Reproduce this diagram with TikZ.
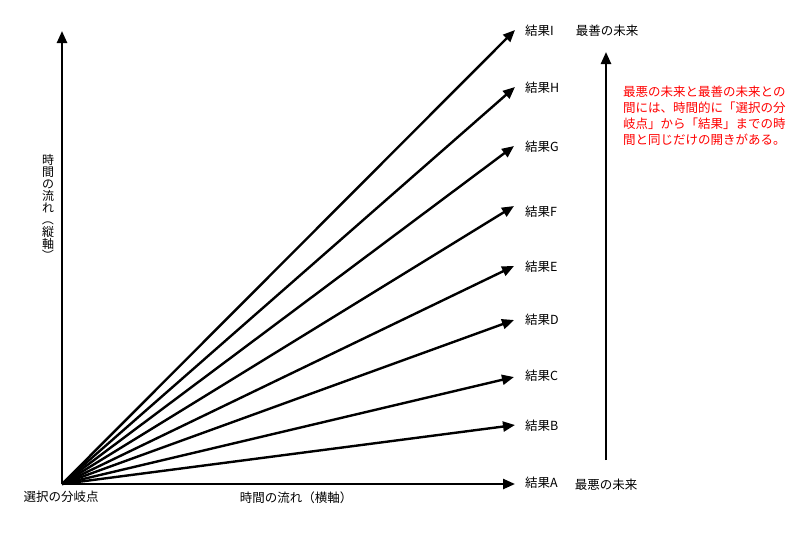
\documentclass[tikz,border=0pt]{standalone}
\usepackage{fontspec}
\setmainfont{Noto Sans CJK JP}
\newfontfamily\cjk{Noto Sans CJK JP}
\usetikzlibrary{arrows.meta}
\tikzset{
  axis/.style={line width=2.4pt, -{Triangle[length=12pt,width=10pt]}},
  ray/.style={line width=2.4pt, -{Triangle[length=12pt,width=10pt]}},
  lbl/.style={font=\cjk\fontsize{12.5}{14}\selectfont, inner sep=0pt, anchor=west},
  txt/.style={font=\cjk\fontsize{12.5}{14}\selectfont, inner sep=0pt},
  note/.style={font=\cjk\fontsize{12.5}{16}\selectfont, inner sep=0pt, text=red, align=left, anchor=north west}
}
\begin{document}
\begin{tikzpicture}[x=1pt,y=-1pt]
\useasboundingbox (0,0) rectangle (800,533);
\coordinate (O) at (62,484);
\coordinate (vtop) at (62,31);
% outcome labels
\node[lbl] (A) at (525,483) {結果A};
\node[lbl] (B) at (525,426) {結果B};
\node[lbl] (C) at (525,376) {結果C};
\node[lbl] (D) at (525,320) {結果D};
\node[lbl] (E) at (525,267) {結果E};
\node[lbl] (F) at (525,212) {結果F};
\node[lbl] (G) at (525,147) {結果G};
\node[lbl] (H) at (525,88) {結果H};
\node[lbl] (I) at (525,31) {結果I};
% tips
\coordinate (tA) at (515,484);
\coordinate (tB) at (515,425);
\coordinate (tC) at (514,377);
\coordinate (tD) at (514,320);
\coordinate (tE) at (514,266);
\coordinate (tF) at (514,206);
\coordinate (tG) at (514,146);
\coordinate (tH) at (515,87);
\coordinate (tI) at (515,30);
% axes
\draw[axis] (O) -- (vtop);
\draw[axis] (O) -- (tA);
\foreach \t in {tB,tC,tD,tE,tF,tG,tH,tI}{
  \draw[ray] (O) -- (\t);
}
% axis labels
\node[txt] (origin) at (61,497) {選択の分岐点};
\node[txt] (hlab) at (296,498) {時間の流れ（横軸）};
\node[txt, align=center, font=\cjk\fontsize{12}{12}\selectfont] (vlab) at (48,208)
  {時\\間\\の\\流\\れ\\\rotatebox[origin=c]{-90}{（}\\縦\\軸\\\rotatebox[origin=c]{-90}{）}};
% right side
\node[txt] (best) at (607,31) {最善の未来};
\node[txt] (worst) at (606,485) {最悪の未来};
\coordinate (rbot) at (606,460);
\coordinate (rtop) at (606,52);
\draw[axis] (rbot) -- (rtop);
\node[note] (nt) at (623,86) {最悪の未来と最善の未来との\\間には、時間的に「選択の分\\岐点」から「結果」までの時\\間と同じだけの開きがある。};
\end{tikzpicture}
\end{document}
